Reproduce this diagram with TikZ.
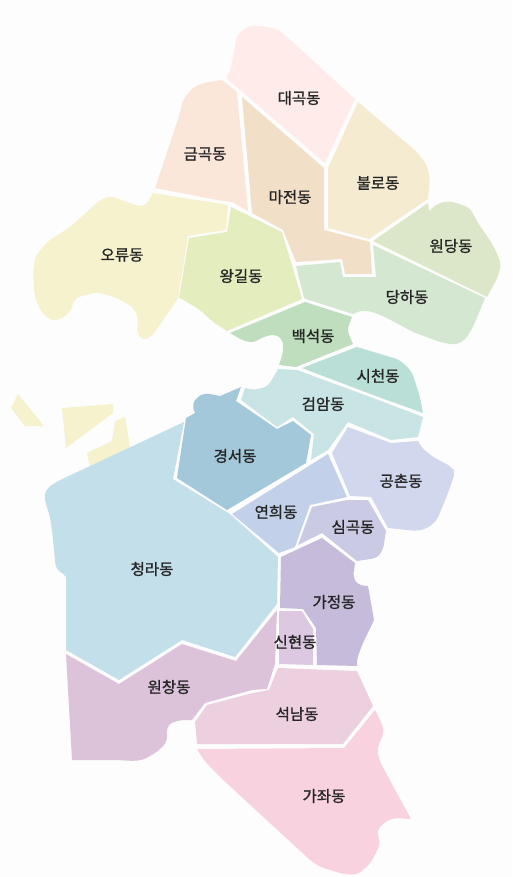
\documentclass[tikz,border=0pt]{standalone}
\usepackage{fontspec}
\setmainfont{Noto Sans CJK KR}[FakeBold=1.2]
\definecolor{bgc}{HTML}{FDFDFD}
\definecolor{cDaegok}{HTML}{FEEBEA}
\definecolor{cGeumgok}{HTML}{FBE6DA}
\definecolor{cMajeon}{HTML}{F2DFC7}
\definecolor{cBullo}{HTML}{F5EBD0}
\definecolor{cWondang}{HTML}{DBE7C8}
\definecolor{cDangha}{HTML}{D4E7D0}
\definecolor{cWanggil}{HTML}{E3EDBE}
\definecolor{cOryu}{HTML}{F5F2CD}
\definecolor{cBaekseok}{HTML}{BEDEBE}
\definecolor{cSicheon}{HTML}{BADFD6}
\definecolor{cGeomam}{HTML}{C9E4E4}
\definecolor{cGyeongseo}{HTML}{A2C8DA}
\definecolor{cCheongna}{HTML}{C3DFEA}
\definecolor{cYeonhui}{HTML}{C3D0E9}
\definecolor{cGongchon}{HTML}{D1D8EE}
\definecolor{cSimgok}{HTML}{CBCAE5}
\definecolor{cGajeong}{HTML}{C6BBDB}
\definecolor{cSinhyeon}{HTML}{DCC8E0}
\definecolor{cWonchang}{HTML}{DCC3D9}
\definecolor{cSeoknam}{HTML}{EDD0E0}
\definecolor{cGajwa}{HTML}{F8D3DF}
\definecolor{txt}{HTML}{262626}
\tikzset{
  area/.style={fill=#1,draw=none},
  rc/.style={rounded corners=5pt},
  lab/.style={font=\fontsize{15.5}{16}\selectfont,text=txt,inner sep=0pt,yshift=-1pt}
}
\begin{document}
\begin{tikzpicture}[x=1pt,y=-1pt]
\fill[bgc] (0,0) rectangle (512,877);
\useasboundingbox (0,0) rectangle (512,877);
% 대곡동
\path[area=cDaegok] (226,78) [rc] -- (230,72) -- (233,57) -- (237,35) -- (248,26) -- (263,26) -- (277,29) -- (287,37) [sharp corners] -- (355,99) -- (325,163) -- cycle;
% 금곡동
\path[area=cGeumgok] (222,80) [rc] -- (203,83) -- (192,88) -- (183,100) -- (180,113) [sharp corners] -- (155,188) -- (217,200) -- (232,202) -- (248,211) -- (237,92) -- cycle;
% 마전동
\path[area=cMajeon] (242,97) -- (324,168) -- (324,230) -- (370,242) -- (372,274) -- (345,274) -- (342,259) -- (296,262) -- (283,230) -- (252,213) -- cycle;
% 불로동
\path[area=cBullo] (358,102) -- (328,168) -- (328,228) -- (369,239) -- (428,199) [rc] -- (430,180) -- (427,165) -- (417,152) [sharp corners] -- cycle;
% 원당동
\path[area=cWondang] (373,241) -- (428,203) -- (429,211) [rc] -- (437,204) -- (447,201) -- (457,203) -- (470,208) -- (478,223) -- (493,245) -- (501,263) -- (498,277) [sharp corners] -- (487,297) -- cycle;
% 당하동
\path[area=cDangha] (296,266) -- (340,262) -- (343,277) -- (376,277) -- (373,245) -- (485,298) [rc] -- (473,327) -- (465,340) -- (455,345) -- (440,342) -- (413,332) -- (387,318) -- (373,312) -- (362,310) [sharp corners] -- (353,314) -- (306,299) -- (304,298) -- cycle;
% 왕길동
\path[area=cWanggil] (231,207) -- (282,232) -- (302,299) -- (227,331) [rc] -- (213,322) -- (200,310) [sharp corners] -- (182,299) -- (179,298) -- (189,238) -- (227,232) -- cycle;
% 오류동
\path[area=cOryu] (153,193) -- (228,205) -- (226,230) -- (188,236) -- (178,298) -- (177,300) [rc] -- (163,320) -- (153,335) -- (143,341) -- (137,333) -- (138,317) -- (133,307) -- (117,298) -- (97,292) -- (75,298) -- (70,312) -- (63,318) -- (52,321) -- (42,313) -- (35,298) -- (33,275) -- (35,257) -- (47,242) -- (70,227) -- (100,200) -- (110,196) -- (127,202) -- (142,207) -- (148,203) [sharp corners] -- cycle;
% islands
\path[area=cOryu] (18,394) -- (44,426) -- (25,426) -- (11,408) -- cycle;
\path[area=cOryu] (62,408) -- (113,404) -- (113,413) -- (66,448) -- cycle;
\path[area=cOryu] (115,421) -- (125,417) -- (130,447) -- (90,467) -- (87,453) -- (112,441) -- cycle;
% 백석동
\path[area=cBaekseok] (305,302) -- (352,317) [rc] -- (347,330) [sharp corners] -- (353,344) -- (296,367) -- (279,365) [rc] -- (283,353) -- (283,340) -- (275,334) -- (263,337) -- (253,343) -- (242,340) [sharp corners] -- (230,333) -- cycle;
% 시천동
\path[area=cSicheon] (302,368) -- (357,347) [rc] -- (377,353) -- (400,360) -- (412,372) -- (420,397) [sharp corners] -- (423,413) -- (373,395) -- cycle;
% 검암동
\path[area=cGeomam] (278,369) -- (297,370) -- (373,398) -- (423,417) -- (418,437) -- (391,440) -- (348,422) -- (328,450) -- (311,460) -- (314,434) -- (293,417) -- (277,427) -- (241,400) -- (245,388) [rc] -- (253,390) -- (267,387) -- (275,375) [sharp corners] -- cycle;
% 경서동
\path[area=cGyeongseo] (241,387) -- (236,401) -- (277,429) -- (293,421) -- (311,435) -- (306,463) -- (227,510) -- (177,478) -- (186,418) -- (195,413) [rc] -- (192,405) -- (197,397) -- (205,393) [sharp corners] -- (220,396) -- cycle;
% 청라동
\path[area=cCheongna] (184,422) -- (173,479) -- (230,514) -- (278,557) -- (277,604) -- (235,657) -- (182,640) -- (119,680) -- (66,650) -- (66,577) [rc] -- (62,572) -- (56,570) -- (52,530) -- (50,517) -- (44,497) -- (47,488) -- (58,481) [sharp corners] -- cycle;
% 연희동
\path[area=cYeonhui] (328,454) -- (347,497) -- (310,505) -- (295,547) -- (279,553) -- (232,514) -- cycle;
% 공촌동
\path[area=cGongchon] (348,427) -- (391,443) -- (418,441) [rc] -- (422,448) -- (433,457) -- (452,467) -- (455,473) -- (448,493) -- (437,520) -- (428,528) -- (417,531) [sharp corners] -- (388,528) -- (371,497) -- (350,496) -- (332,453) -- cycle;
% 심곡동
\path[area=cSimgok] (368,500) -- (386,531) [rc] -- (383,550) -- (377,558) [sharp corners] -- (357,561) -- (322,533) -- (298,545) -- (312,507) -- (347,500) -- cycle;
% 가정동
\path[area=cGajeong] (322,538) -- (355,563) [rc] -- (353,577) -- (358,585) [sharp corners] -- (368,586) -- (374,620) [rc] -- (362,645) -- (357,659) [sharp corners] -- (357,666) -- (317,665) -- (316,628) -- (303,609) -- (280,608) -- (281,557) -- cycle;
% 신현동
\path[area=cSinhyeon] (279,611) -- (302,611) -- (313,629) -- (313,665) -- (279,664) -- cycle;
% 원창동
\path[area=cWonchang] (277,610) -- (275,664) -- (267,689) -- (252,690) -- (205,703) -- (192,720) [rc] -- (180,720) -- (168,724) -- (167,730) -- (167,742) -- (157,752) -- (143,760) -- (133,761) -- (117,760) [sharp corners] -- (72,760) -- (66,654) -- (119,684) -- (182,644) -- (236,661) -- cycle;
% 석남동
\path[area=cSeoknam] (278,668) -- (357,671) -- (373,706) -- (343,744) -- (197,744) -- (195,722) -- (207,705) -- (253,693) -- (269,690) -- cycle;
% 가좌동
\path[area=cGajwa] (197,749) -- (344,748) -- (375,710) [rc] -- (382,724) -- (384,732) -- (377,749) -- (380,762) [sharp corners] -- (411,819) [rc] -- (393,818) -- (385,822) -- (377,830) -- (380,845) -- (370,864) -- (357,875) -- (343,874) -- (320,867) -- (310,860) -- (233,789) -- (217,774) -- (203,759) [sharp corners] -- cycle;
% labels
\node[lab] (n1) at (299,97) {대곡동};
\node[lab] (n2) at (205,153) {금곡동};
\node[lab] (n3) at (378,182) {불로동};
\node[lab] (n4) at (290,196) {마전동};
\node[lab] (n5) at (451,245) {원당동};
\node[lab] (n6) at (122,254) {오류동};
\node[lab] (n7) at (241,275) {왕길동};
\node[lab] (n8) at (407,296) {당하동};
\node[lab] (n9) at (313,335) {백석동};
\node[lab] (n10) at (378,375) {시천동};
\node[lab] (n11) at (323,403) {검암동};
\node[lab] (n12) at (235,455) {경서동};
\node[lab] (n13) at (401,480) {공촌동};
\node[lab] (n14) at (276,511) {연희동};
\node[lab] (n15) at (353,526) {심곡동};
\node[lab] (n16) at (152,568) {청라동};
\node[lab] (n17) at (334,601) {가정동};
\node[lab] (n18) at (295,641) {신현동};
\node[lab] (n19) at (169,686) {원창동};
\node[lab] (n20) at (297,713) {석남동};
\node[lab] (n21) at (324,795) {가좌동};
\end{tikzpicture}
\end{document}
